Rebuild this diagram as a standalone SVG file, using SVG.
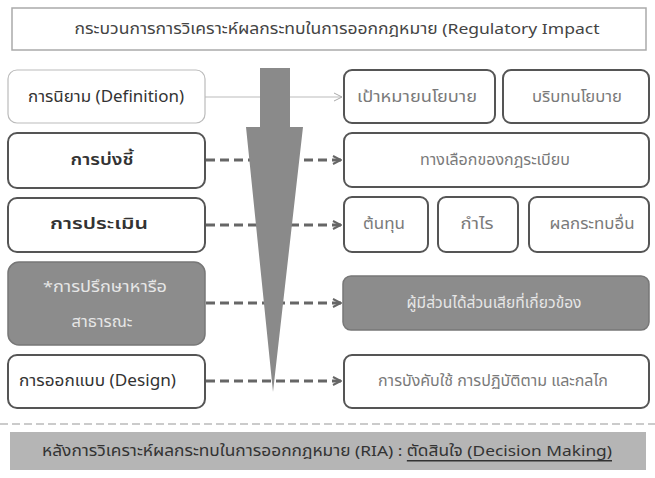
<svg xmlns="http://www.w3.org/2000/svg" width="655" height="478" viewBox="0 0 655 478">
<defs>
<style>
.t{font-family:"Noto Sans Thai","Noto Sans","DejaVu Sans",sans-serif;font-size:16px;fill:#333;text-anchor:middle;dominant-baseline:central}
.tr{font-family:"Noto Sans Thai","Noto Sans","DejaVu Sans",sans-serif;font-size:15px;fill:#7a7a7a;text-anchor:middle;dominant-baseline:central}
.tw{font-family:"Noto Sans Thai","Noto Sans","DejaVu Sans",sans-serif;font-size:15px;fill:#e6e6e6;text-anchor:middle;dominant-baseline:central}
.b{font-weight:600;font-size:15px}
.box{fill:#fff;stroke:#555;stroke-width:2}
.light{fill:#fff;stroke:#bbb;stroke-width:1.2}
.gbox{fill:#8c8c8c;stroke:#777;stroke-width:1.5}
.dash{fill:none;stroke:#666;stroke-width:3;stroke-dasharray:9,5}
</style>
<marker id="ah" viewBox="0 0 10 10" refX="9" refY="5" markerWidth="10" markerHeight="10" markerUnits="userSpaceOnUse" orient="auto">
<path d="M1,1 L9,5 L1,9" fill="none" stroke="#666" stroke-width="2"/>
</marker>
<marker id="ahl" viewBox="0 0 10 10" refX="9" refY="5" markerWidth="10" markerHeight="10" markerUnits="userSpaceOnUse" orient="auto">
<path d="M1,1 L9,5 L1,9" fill="none" stroke="#aaa" stroke-width="1"/>
</marker>
</defs>
<rect width="655" height="478" fill="#fff"/>

<g id="title">
<rect x="12" y="8" width="634" height="42" fill="#fff" stroke="#aaa" stroke-width="1.5"/>
<text class="t" x="337" y="29" style="font-size:15px;fill:#444" textLength="525" lengthAdjust="spacingAndGlyphs">กระบวนการการวิเคราะห์ผลกระทบในการออกกฎหมาย (Regulatory Impact</text>
</g>

<g id="connectors">
<line x1="205" y1="97" x2="342" y2="97" stroke="#bbb" stroke-width="1" marker-end="url(#ahl)"/>
<line class="dash" x1="206" y1="160" x2="341" y2="160" marker-end="url(#ah)"/>
<line class="dash" x1="206" y1="225" x2="341" y2="225" marker-end="url(#ah)"/>
<line class="dash" x1="206" y1="303" x2="341" y2="303" marker-end="url(#ah)"/>
<line class="dash" x1="206" y1="381" x2="341" y2="381" marker-end="url(#ah)"/>
<line x1="0" y1="424" x2="655" y2="424" stroke="#bbb" stroke-width="1.5" stroke-dasharray="8,4"/>
</g>

<g id="bigArrow">
<polygon points="260,68 290,68 290,127 303,127 273,392 246,127 260,127" fill="#8a8a8a"/>
</g>

<g id="n-definition">
<rect class="light" x="8" y="70" width="197" height="53" rx="9"/>
<text class="t" x="106" y="97" textLength="156" lengthAdjust="spacingAndGlyphs">การนิยาม (Definition)</text>
</g>
<g id="n-identify">
<rect class="box" x="8" y="133" width="197" height="55" rx="9"/>
<text class="t b" x="102" y="160" textLength="63" lengthAdjust="spacingAndGlyphs">การบ่งชี้</text>
</g>
<g id="n-assess">
<rect class="box" x="8" y="198" width="197" height="54" rx="9"/>
<text class="t b" x="99" y="224" textLength="98" lengthAdjust="spacingAndGlyphs">การประเมิน</text>
</g>
<g id="n-consult">
<rect class="gbox" x="8" y="262" width="197" height="83" rx="11"/>
<text class="tw" x="105" y="287" textLength="124" lengthAdjust="spacingAndGlyphs">*การปรึกษาหารือ</text>
<text class="tw" x="102" y="322" textLength="61" lengthAdjust="spacingAndGlyphs">สาธารณะ</text>
</g>
<g id="n-design">
<rect class="box" x="8" y="355" width="197" height="53" rx="9"/>
<text class="t" x="19" y="381" style="text-anchor:start" textLength="157" lengthAdjust="spacingAndGlyphs">การออกแบบ (Design)</text>
</g>

<g id="n-goal">
<rect class="box" x="344" y="70" width="151" height="53" rx="8"/>
<text class="tr" x="417" y="97" textLength="120" lengthAdjust="spacingAndGlyphs">เป้าหมายนโยบาย</text>
</g>
<g id="n-context">
<rect class="box" x="503" y="70" width="146" height="53" rx="8"/>
<text class="tr" x="577" y="97" textLength="90" lengthAdjust="spacingAndGlyphs">บริบทนโยบาย</text>
</g>
<g id="n-options">
<rect class="box" x="344" y="133" width="305" height="54" rx="8"/>
<text class="tr" x="495" y="160" textLength="150" lengthAdjust="spacingAndGlyphs">ทางเลือกของกฎระเบียบ</text>
</g>
<g id="n-cost">
<rect class="box" x="344" y="197" width="84" height="55" rx="8"/>
<text class="tr" x="384" y="224" textLength="42" lengthAdjust="spacingAndGlyphs">ต้นทุน</text>
</g>
<g id="n-profit">
<rect class="box" x="438" y="197" width="80" height="55" rx="8"/>
<text class="tr" x="477" y="224" textLength="33" lengthAdjust="spacingAndGlyphs">กำไร</text>
</g>
<g id="n-other">
<rect class="box" x="529" y="197" width="120" height="55" rx="8"/>
<text class="tr" x="592" y="224" textLength="85" lengthAdjust="spacingAndGlyphs">ผลกระทบอื่น</text>
</g>
<g id="n-stakeholders">
<rect class="gbox" x="343" y="276" width="306" height="54" rx="8"/>
<text class="tw" x="494" y="303" textLength="175" lengthAdjust="spacingAndGlyphs">ผู้มีส่วนได้ส่วนเสียที่เกี่ยวข้อง</text>
</g>
<g id="n-enforce">
<rect class="box" x="344" y="355" width="305" height="53" rx="8"/>
<text class="tr" x="493" y="381" textLength="230" lengthAdjust="spacingAndGlyphs">การบังคับใช้ การปฏิบัติตาม และกลไก</text>
</g>

<g id="n-decision">
<rect x="10" y="432" width="636" height="38" fill="#b5b5b5"/>
<text class="t" x="327" y="451" style="font-size:15px;fill:#333" textLength="570" lengthAdjust="spacingAndGlyphs">หลังการวิเคราะห์ผลกระทบในการออกกฎหมาย (RIA) : <tspan text-decoration="underline">ตัดสินใจ (Decision Making)</tspan></text>
</g>
</svg>
